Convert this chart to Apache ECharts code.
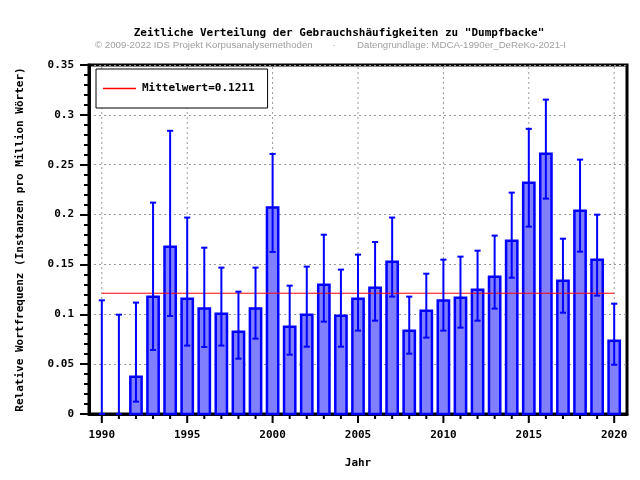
<!DOCTYPE html>
<html>
<head>
<meta charset="utf-8">
<script src="https://cdn.jsdelivr.net/npm/echarts@6/dist/echarts.min.js"></script>
<style>html,body{margin:0;padding:0;background:#fff}#c{width:640px;height:480px}</style>
</head>
<body>
<div id="c"></div>
<script>
const years = [1990,1991,1992,1993,1994,1995,1996,1997,1998,1999,2000,2001,2002,2003,2004,2005,2006,2007,2008,2009,2010,2011,2012,2013,2014,2015,2016,2017,2018,2019,2020];
const values = [0,0,0.0374,0.1177,0.1678,0.1157,0.1057,0.1006,0.0826,0.1057,0.207,0.0876,0.0996,0.1297,0.0986,0.1157,0.1267,0.1528,0.0836,0.1036,0.1137,0.1167,0.1247,0.1377,0.1738,0.232,0.261,0.1337,0.2039,0.1548,0.0735];
const errLow = [0,0,0.0124,0.0642,0.0983,0.0686,0.0672,0.0686,0.0555,0.0756,0.1625,0.0595,0.0675,0.0926,0.0675,0.0836,0.0936,0.1177,0.0605,0.0766,0.0836,0.0866,0.0936,0.1057,0.1367,0.1879,0.216,0.1016,0.1628,0.1187,0.0494];
const errHigh = [0.114,0.0996,0.1117,0.212,0.284,0.197,0.1668,0.1468,0.1227,0.1468,0.2608,0.1287,0.1478,0.1798,0.1448,0.1598,0.1725,0.197,0.1177,0.1407,0.1548,0.1578,0.1638,0.1789,0.222,0.286,0.3153,0.1758,0.2551,0.1999,0.1106];
const meanValue = 0.1211;
const majorYears = [1990,1995,2000,2005,2010,2015,2020];

const mono = '"DejaVu Sans Mono", monospace';
const lbl = {fontFamily: mono, fontWeight: 'bold', fontSize: 11, color: '#000'};
const meanName = 'Mittelwert=' + meanValue;
const subFont = '9.7px "Liberation Sans", Arial, sans-serif';

const chart = echarts.init(document.getElementById('c'), null, {renderer: 'canvas'});
const barData = years.map((y, i) => [y, values[i]]);
const errData = years.map((y, i) => [y, errLow[i], errHigh[i]]);
const tickData = years.map(y => [y, majorYears.indexOf(y) >= 0 ? 1 : 0]);

chart.setOption({
  animation: false,
  backgroundColor: '#fff',
  grid: {left: 89, right: 13, top: 65, bottom: 66, show: true, borderColor: '#000', borderWidth: 3, backgroundColor: 'transparent'},
  graphic: [
    {type: 'text', style: {text: 'Zeitliche Verteilung der Gebrauchshäufigkeiten zu "Dumpfbacke"', x: 339, y: 33, textAlign: 'center', textVerticalAlign: 'middle', font: 'bold 11px "DejaVu Sans Mono", monospace', fill: '#000'}},
    {type: 'text', style: {text: '© 2009-2022 IDS Projekt Korpusanalysemethoden', x: 95, y: 45, textVerticalAlign: 'middle', font: subFont, fill: '#a0a0a0'}},
    {type: 'text', style: {text: '·', x: 334, y: 45, textAlign: 'center', textVerticalAlign: 'middle', font: subFont, fill: '#a0a0a0'}},
    {type: 'text', style: {text: 'Datengrundlage: MDCA-1990er_DeReKo-2021-I', x: 357, y: 45, textVerticalAlign: 'middle', font: subFont, fill: '#a0a0a0'}}
  ],
  legend: {
    left: 96, top: 69, orient: 'horizontal',
    data: [{name: meanName, icon: 'rect'}],
    itemWidth: 33, itemHeight: 1.5, itemGap: 0,
    padding: [14, 13, 14, 7],
    borderColor: '#000', borderWidth: 1, backgroundColor: '#fff',
    textStyle: Object.assign({}, lbl, {padding: [0, 0, 0, 1]}),
    selectedMode: false, z: 10
  },
  xAxis: [
    {type: 'value', min: 1989.25, max: 2020.75, position: 'bottom',
     axisLine: {show: true, lineStyle: {color: '#000', width: 3}},
     axisTick: {show: false},
     axisLabel: {show: true, customValues: majorYears, margin: 16, formatter: v => String(v), ...lbl},
     splitLine: {show: false},
     name: 'Jahr', nameLocation: 'middle', nameGap: 44, nameTextStyle: lbl}
  ],
  yAxis: {
    type: 'value', min: 0, max: 0.35, interval: 0.05,
    axisLine: {show: true, lineStyle: {color: '#000', width: 3}},
    axisTick: {show: true, length: 9, lineStyle: {color: '#000', width: 2}},
    minorTick: {show: true, splitNumber: 5, length: 5, lineStyle: {color: '#000', width: 2}},
    axisLabel: {margin: 15, formatter: v => String(+v.toFixed(2)), ...lbl},
    splitLine: {show: true, lineStyle: {color: '#999', type: [2, 3], width: 1}},
    name: 'Relative Wortfrequenz (Instanzen pro Million Wörter)', nameLocation: 'middle', nameGap: 63, nameRotate: 90, nameTextStyle: lbl
  },
  series: [
    {type: 'custom', data: tickData, z: 1, clip: false, silent: true,
     renderItem: function (params, api) {
       const x = api.value(0), major = api.value(1);
       const p = api.coord([x, 0]);
       const top = api.coord([x, 0.35]);
       const children = [{type: 'line', shape: {x1: p[0], y1: p[1], x2: p[0], y2: p[1] + (major ? 9 : 5)}, style: {stroke: '#000', lineWidth: 2}}];
       if (major) children.push({type: 'line', shape: {x1: p[0], y1: p[1], x2: top[0], y2: top[1]}, style: {stroke: '#999', lineWidth: 1, lineDash: [2, 3]}});
       return {type: 'group', children: children};
     }},
    {type: 'custom', data: barData, z: 2, clip: false,
     renderItem: function (params, api) {
       const x = api.value(0), v = api.value(1);
       if (!v) return null;
       const a = api.coord([x - 0.33, v]);
       const b = api.coord([x + 0.33, 0]);
       return {type: 'rect', shape: {x: a[0], y: a[1], width: b[0] - a[0], height: b[1] - a[1]},
               style: {fill: '#8080ff', stroke: '#0000ff', lineWidth: 2.5}};
     }},
    {type: 'line', name: meanName, data: [[years[0], meanValue], [years[years.length - 1], meanValue]],
     symbol: 'none', lineStyle: {color: '#ff0000', width: 1}, itemStyle: {color: '#ff0000'}, z: 3},
    {type: 'custom', data: errData, z: 4, clip: false,
     renderItem: function (params, api) {
       const x = api.value(0), lo = api.value(1), hi = api.value(2);
       const pl = api.coord([x, lo]), ph = api.coord([x, hi]);
       const c1 = api.coord([x - 0.18, hi]), c2 = api.coord([x + 0.18, hi]);
       const d1 = api.coord([x - 0.18, lo]), d2 = api.coord([x + 0.18, lo]);
       const st = {stroke: '#0000ff', lineWidth: 2};
       return {type: 'group', children: [
         {type: 'line', shape: {x1: pl[0], y1: pl[1], x2: ph[0], y2: ph[1]}, style: st},
         {type: 'line', shape: {x1: c1[0], y1: c1[1], x2: c2[0], y2: c2[1]}, style: st},
         {type: 'line', shape: {x1: d1[0], y1: d1[1], x2: d2[0], y2: d2[1]}, style: st}
       ]};
     }}
  ]
});
</script>
</body>
</html>
